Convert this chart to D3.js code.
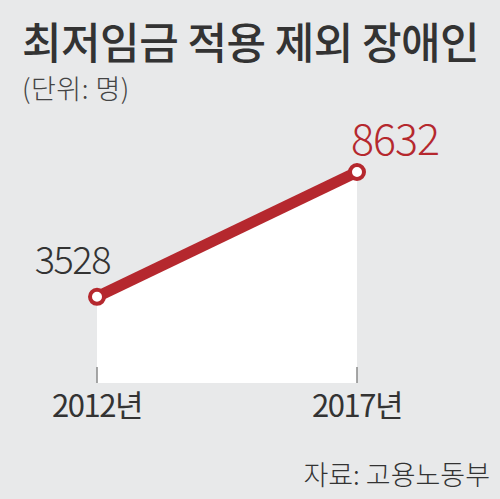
<!DOCTYPE html>
<html>
<head>
<meta charset="utf-8">
<script src="https://cdn.jsdelivr.net/npm/d3@7"></script>
<style>
  html, body { margin: 0; padding: 0; background: #e8e9ea; }
  svg { display: block; }
  text { font-family: "Noto Sans CJK KR", "Noto Sans", sans-serif; }
</style>
</head>
<body>
<svg width="500" height="499"></svg>
<script>
const years = ["2012년", "2017년"];
const values = [3528, 8632];
const title = "최저임금 적용 제외 장애인";
const unit = "(단위: 명)";
const source = "자료: 고용노동부";

const svg = d3.select("svg");
const width = 500, height = 499;

svg.append("rect")
  .attr("width", width)
  .attr("height", height)
  .attr("fill", "#e8e9ea");

const data = years.map((y, i) => ({ year: y, value: values[i] }));

const x = d3.scalePoint().domain(years).range([97, 357]);
const y = d3.scaleLinear().domain([0, d3.max(values)]).range([383, 172]);

// white area under the line
const area = d3.area()
  .x(d => x(d.year))
  .y0(y(0))
  .y1(d => y(d.value));

svg.append("path")
  .datum(data)
  .attr("d", area)
  .attr("fill", "#ffffff");

// ticks
svg.selectAll(".tick")
  .data(years)
  .enter()
  .append("line")
  .attr("x1", d => x(d))
  .attr("x2", d => x(d))
  .attr("y1", y(0) - 16)
  .attr("y2", y(0))
  .attr("stroke", "#8a8a8a")
  .attr("stroke-width", 1.5);

// year labels
svg.selectAll(".year")
  .data(years)
  .enter()
  .append("text")
  .attr("x", d => x(d))
  .attr("y", 417)
  .attr("text-anchor", "middle")
  .attr("font-size", 31)
  .attr("letter-spacing", -1.5)
  .attr("fill", "#333")
  .text(d => d);

// line
const line = d3.line()
  .x(d => x(d.year))
  .y(d => y(d.value));

svg.append("path")
  .datum(data)
  .attr("d", line)
  .attr("fill", "none")
  .attr("stroke", "#b5282e")
  .attr("stroke-width", 11);

svg.selectAll(".dot")
  .data(data)
  .enter()
  .append("circle")
  .attr("cx", d => x(d.year))
  .attr("cy", d => y(d.value))
  .attr("r", 7)
  .attr("fill", "#fff")
  .attr("stroke", "#b5282e")
  .attr("stroke-width", 4);

// value labels
svg.append("text")
  .attr("x", x(years[0]) + 13)
  .attr("y", y(values[0]) - 23)
  .attr("text-anchor", "end")
  .attr("font-size", 38)
  .attr("font-weight", 300)
  .attr("letter-spacing", -1.5)
  .attr("fill", "#333")
  .text(values[0]);

svg.append("text")
  .attr("x", x(years[1]) - 6)
  .attr("y", y(values[1]) - 17)
  .attr("text-anchor", "start")
  .attr("font-size", 43)
  .attr("font-weight", 300)
  .attr("letter-spacing", -1)
  .attr("fill", "#b5282e")
  .text(values[1]);

// title
svg.append("text")
  .attr("x", 22)
  .attr("y", 59)
  .attr("font-size", 43)
  .attr("font-weight", 500)
  .attr("letter-spacing", -0.5)
  .attr("fill", "#333")
  .text(title);

svg.append("text")
  .attr("x", 22)
  .attr("y", 99)
  .attr("font-size", 27)
  .attr("font-weight", 300)
  .attr("letter-spacing", 0.5)
  .attr("fill", "#444")
  .text(unit);

svg.append("text")
  .attr("x", 490)
  .attr("y", 485)
  .attr("text-anchor", "end")
  .attr("font-size", 27)
  .attr("font-weight", 300)
  .attr("fill", "#333")
  .text(source);
</script>
</body>
</html>
